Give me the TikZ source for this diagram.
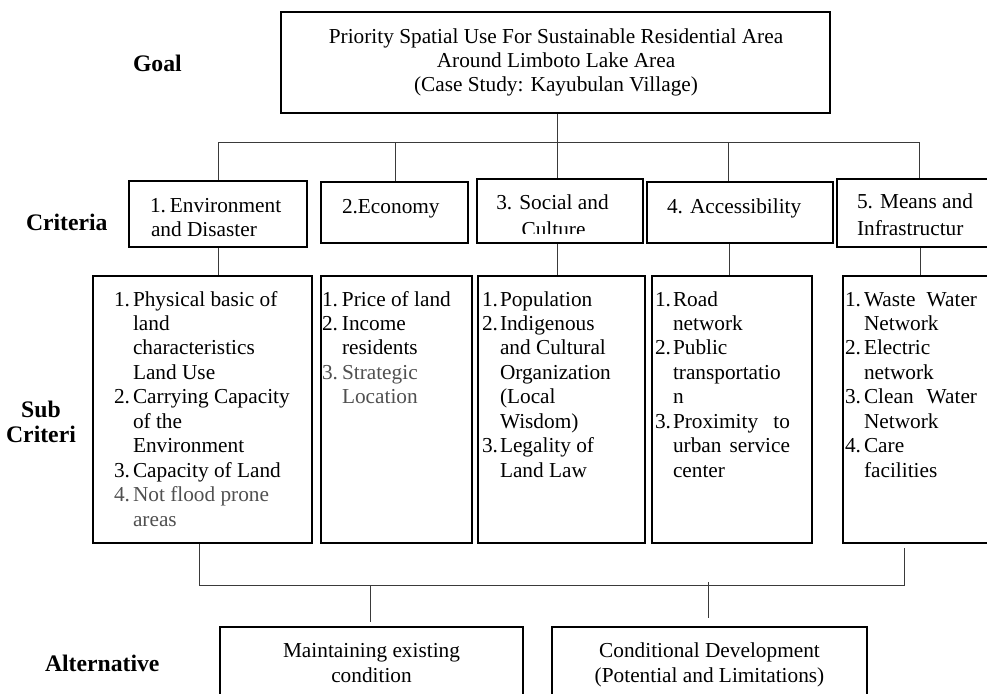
\documentclass[tikz,border=0pt]{standalone}
\usepackage{fontspec}
\setmainfont{Liberation Serif}
\usetikzlibrary{calc}
\definecolor{linkgray}{HTML}{3A3A3A}
\definecolor{softtext}{HTML}{505050}
\newcommand{\bodysize}{\fontsize{21.3}{24.45}\selectfont}
\newcommand{\labelsize}{\fontsize{23.7}{25}\selectfont\bfseries}
\newcommand{\nm}[2]{\makebox[#1][l]{#2}}
\begin{document}
\begin{tikzpicture}[x=1pt,y=-1pt,
  box/.style={draw=black,line width=1.6pt,inner sep=0pt,rectangle},
  txt/.style={inner sep=0pt,outer sep=0pt,font=\bodysize},
  lvl/.style={inner sep=0pt,outer sep=0pt,font=\labelsize},
  link/.style={draw=linkgray,line width=0.85pt}]
\useasboundingbox (0,0) rectangle (987,693);

% level labels (multi-line nodes are placed by the baseline of their last line)
\node[lvl,anchor=base west] (lgoal) at (133,71) {Goal};
\node[lvl,anchor=base west] (lcrit) at (26,230) {Criteria};
\node[lvl,anchor=base,align=center] (lsub) at (41,442) {Sub\\Criteri};
\node[lvl,anchor=base west] (lalt) at (45,671) {Alternative};

% goal
\node[box,minimum width=549pt,minimum height=101pt] (goal) at (555.5,62.5) {};
\node[txt,anchor=base,align=center] (goaltxt) at (556,92)
  {Priority Spatial Use For Sustainable Residential Area\\Around Limboto Lake Area\\(Case Study: Kayubulan Village)};

% criteria boxes
\node[box,minimum width=178pt,minimum height=66pt] (cEnv) at (218,214) {};
\node[box,minimum width=147pt,minimum height=61pt] (cEco) at (394.5,212.5) {};
\node[box,minimum width=166pt,minimum height=64pt] (cSoc) at (560,211) {};
\node[box,minimum width=186pt,minimum height=61pt] (cAcc) at (740,212.5) {};
\node[box,minimum width=158pt,minimum height=68pt] (cMea) at (916,213) {};

\node[txt,anchor=base west] (tEnv) at (150,212) {\nm{20pt}{1.}Environment};
\node[txt,anchor=base west] (tEnvb) at (151,236) {and Disaster};
\node[txt,anchor=base west] (tEco) at (342,213) {2.Economy};
\node[txt,anchor=base] (tSoc) at (552.5,209) {3. Social and};
\begin{scope}
  \clip (477,170) rectangle (643,233.5);
  \node[txt,anchor=base] (tSocb) at (553.5,236) {Culture};
\end{scope}
\node[txt,anchor=base west] (tAcc) at (667,213) {4. Accessibility};
\node[txt,anchor=base west] (tMea) at (857,208) {5. Means and};
\node[txt,anchor=base west] (tMeab) at (857,235) {Infrastructur};

% sub-criteria boxes
\node[box,minimum width=219pt,minimum height=267pt] (sEnv) at (202.5,409.5) {};
\node[box,minimum width=151pt,minimum height=267pt] (sEco) at (396.5,409.5) {};
\node[box,minimum width=167pt,minimum height=267pt] (sSoc) at (561.5,409.5) {};
\node[box,minimum width=160pt,minimum height=267pt] (sAcc) at (732,409.5) {};
\node[box,minimum width=152pt,minimum height=267pt] (sMea) at (919,409.5) {};

\node[txt,anchor=base west] (lEnv) at (114,306) {%
  \begin{tabular}[t]{@{}l@{}l@{}}
  \nm{19pt}{1.} & Physical basic of\\
   & land\\
   & characteristics\\
   & Land Use\\
  \nm{19pt}{2.} & Carrying Capacity\\
   & of the\\
   & Environment\\
  \nm{19pt}{3.} & Capacity of Land\\
  \color{softtext}\nm{19pt}{4.} & \color{softtext}Not flood prone\\
   & \color{softtext}areas
  \end{tabular}};

\node[txt,anchor=base west] (lEco) at (322,306) {%
  \begin{tabular}[t]{@{}l@{}l@{}}
  \nm{20pt}{1.} & Price of land\\
  \nm{20pt}{2.} & Income\\
   & residents\\
  \color{softtext}\nm{20pt}{3.} & \color{softtext}Strategic\\
   & \color{softtext}Location
  \end{tabular}};

\node[txt,anchor=base west] (lSoc) at (482,306) {%
  \begin{tabular}[t]{@{}l@{}l@{}}
  \nm{18pt}{1.} & Population\\
  \nm{18pt}{2.} & Indigenous\\
   & and Cultural\\
   & Organization\\
   & (Local\\
   & Wisdom)\\
  \nm{18pt}{3.} & Legality of\\
   & Land Law
  \end{tabular}};

\node[txt,anchor=base west] (lAcc) at (655,306) {%
  \begin{tabular}[t]{@{}l@{}l@{}}
  \nm{18pt}{1.} & Road\\
   & network\\
  \nm{18pt}{2.} & Public\\
   & transportatio\\
   & n\\
  \nm{18pt}{3.} & \hbox to 117pt{Proximity\hfill to}\\
   & \hbox to 117pt{urban\hfill service}\\
   & center
  \end{tabular}};

\node[txt,anchor=base west] (lMea) at (845,306) {%
  \begin{tabular}[t]{@{}l@{}l@{}}
  \nm{19pt}{1.} & \hbox to 113pt{Waste\hfill Water}\\
   & Network\\
  \nm{19pt}{2.} & Electric\\
   & network\\
  \nm{19pt}{3.} & \hbox to 113pt{Clean\hfill Water}\\
   & Network\\
  \nm{19pt}{4.} & Care\\
   & facilities
  \end{tabular}};

% alternatives
\node[box,minimum width=303pt,minimum height=73pt] (aKeep) at (371.5,663.5) {};
\node[box,minimum width=315pt,minimum height=73pt] (aCond) at (709.5,663.5) {};
\node[txt,anchor=base,align=center] (tKeep) at (371.5,682) {Maintaining existing\\condition};
\node[txt,anchor=base,align=center] (tCond) at (709.5,682) {Conditional Development\\(Potential and Limitations)};

% goal to criteria
\coordinate (jL) at (218,142);
\coordinate (jE) at (395,142);
\coordinate (jS) at (557,142);
\coordinate (jA) at (728,142);
\coordinate (jR) at (919,142);
\draw[link] (jL) -- (jR);
\draw[link] (jS |- goal.south) -- (jS |- cSoc.north);
\draw[link] (jL) -- (jL |- cEnv.north);
\draw[link] (jE) -- (jE |- cEco.north);
\draw[link] (jA) -- (jA |- cAcc.north);
\draw[link] (jR) -- (jR |- cMea.north);

% criteria to sub-criteria
\draw[link] (cEnv.south) -- (cEnv.south |- sEnv.north);
\draw[link] (jS |- cSoc.south) -- (jS |- sSoc.north);
\coordinate (kA) at (729,260);
\draw[link] (kA |- cAcc.south) -- (kA |- sAcc.north);
\coordinate (kM) at (920,260);
\draw[link] (kM |- cMea.south) -- (kM |- sMea.north);

% sub-criteria to alternatives
\coordinate (bL) at (199,585);
\coordinate (bR) at (904,585);
\coordinate (bK) at (370,585);
\coordinate (bC) at (708,582);
\draw[link] (bL |- sEnv.south) -- (bL) -- (bR) -- ([yshift=-4pt]bR |- sMea.south);
\draw[link] (bK) -- ([yshift=4pt]bK |- aKeep.north);
\draw[link] (bC) -- ([yshift=8pt]bC |- aCond.north);
\end{tikzpicture}
\end{document}
